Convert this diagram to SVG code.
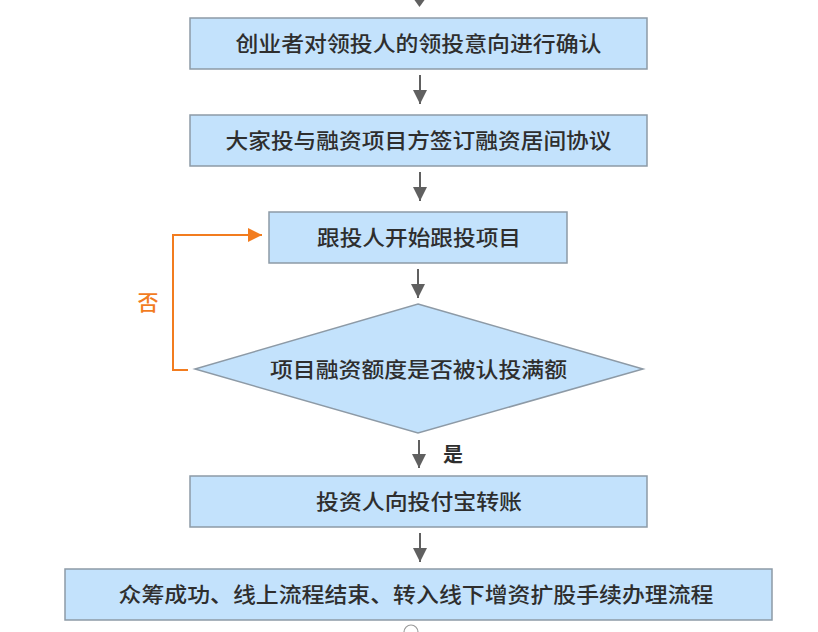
<svg xmlns="http://www.w3.org/2000/svg" width="818" height="632" viewBox="0 0 818 632">
<style>
.box{fill:#c3e2fc;stroke:#8d9aa6;stroke-width:1.5}
.t{font-family:"Noto Sans CJK SC","Noto Sans",sans-serif;font-size:21px;font-weight:500;fill:#2e2e2e;text-anchor:middle}
.ln{stroke:#606060;stroke-width:2;fill:none}
.or{stroke:#f27c1f;stroke-width:2;fill:none}
</style>
<defs>
<marker id="ag" viewBox="0 0 10 10" refX="10" refY="5" markerWidth="14" markerHeight="14" markerUnits="userSpaceOnUse" orient="auto"><path d="M0,0 L10,5 L0,10 z" fill="#606060"/></marker>
<marker id="ao" viewBox="0 0 10 10" refX="10" refY="5" markerWidth="14" markerHeight="14" markerUnits="userSpaceOnUse" orient="auto"><path d="M0,0 L10,5 L0,10 z" fill="#f27c1f"/></marker>
</defs>
<rect width="818" height="632" fill="#ffffff"/>
<g id="connectors">
<polygon points="413,-2 426,-2 419.5,7" fill="#606060"/>
<line class="ln" x1="420" y1="75" x2="420" y2="104" marker-end="url(#ag)"/>
<line class="ln" x1="420" y1="172" x2="420" y2="201" marker-end="url(#ag)"/>
<line class="ln" x1="418" y1="269" x2="418" y2="298" marker-end="url(#ag)"/>
<line class="ln" x1="419" y1="440" x2="419" y2="468" marker-end="url(#ag)"/>
<line class="ln" x1="420" y1="533" x2="420" y2="562" marker-end="url(#ag)"/>
<polyline class="or" points="188,370 173,370 173,235 262,235" marker-end="url(#ao)"/>
<text x="148" y="310" style="font-family:'Noto Sans CJK SC',sans-serif;font-size:21px;font-weight:500;fill:#f27c1f;text-anchor:middle">否</text>
<text x="453" y="462" style="font-family:'Noto Sans CJK SC',sans-serif;font-size:20px;fill:#2e2e2e;text-anchor:middle;font-weight:bold">是</text>
<path d="M404,632 A7,7 0 0 1 418,632" fill="none" stroke="#9a9a9a" stroke-width="1.2"/>
</g>
<g id="n1"><rect class="box" x="190" y="18" width="457" height="51"/><text class="t" x="418.5" y="51" textLength="366" lengthAdjust="spacingAndGlyphs">创业者对领投人的领投意向进行确认</text></g>
<g id="n2"><rect class="box" x="190" y="115" width="457" height="51"/><text class="t" x="418.5" y="148" textLength="386" lengthAdjust="spacingAndGlyphs">大家投与融资项目方签订融资居间协议</text></g>
<g id="n3"><rect class="box" x="269" y="212" width="298" height="51"/><text class="t" x="419" y="245" textLength="204" lengthAdjust="spacingAndGlyphs">跟投人开始跟投项目</text></g>
<g id="n4"><polygon class="box" points="418,304 643,369 418,433 195,369"/><text class="t" x="418.5" y="377" textLength="297" lengthAdjust="spacingAndGlyphs">项目融资额度是否被认投满额</text></g>
<g id="n5"><rect class="box" x="190" y="476" width="457" height="51"/><text class="t" x="419" y="509" textLength="206" lengthAdjust="spacingAndGlyphs">投资人向投付宝转账</text></g>
<g id="n6"><rect class="box" x="65" y="569" width="707" height="51"/><text class="t" x="416" y="602" textLength="595" lengthAdjust="spacingAndGlyphs">众筹成功、线上流程结束、转入线下增资扩股手续办理流程</text></g>
</svg>
